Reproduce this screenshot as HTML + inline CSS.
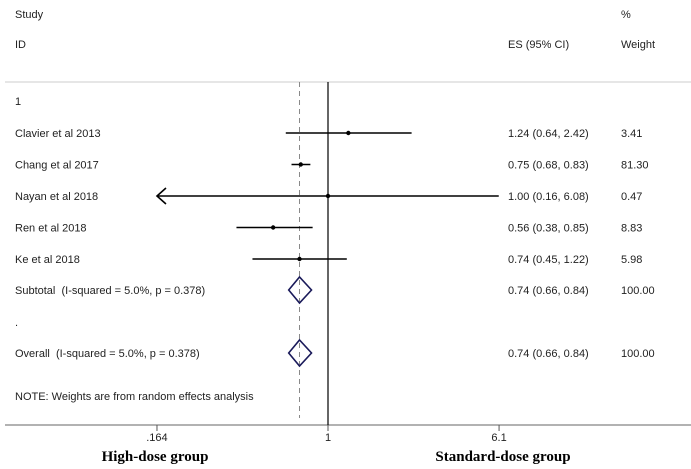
<!DOCTYPE html>
<html><head><meta charset="utf-8"><style>
html,body{margin:0;padding:0;background:#fff;}
svg{display:block;}
text{font-family:"Liberation Sans",Arial,sans-serif;font-size:11px;fill:#222;white-space:pre;}
.b{font-family:"Liberation Serif",serif;font-weight:bold;font-size:15px;fill:#000;}
</style></head><body>
<svg id="c" width="691" height="469" viewBox="0 0 691 469">
<text x="15" y="18">Study</text>
<text x="15" y="48">ID</text>
<text x="508" y="48">ES (95% CI)</text>
<text x="621" y="18">%</text>
<text x="621" y="48">Weight</text>
<line x1="5" y1="82" x2="691" y2="82" stroke="#ccc" stroke-width="1"/>
<text x="15" y="105">1</text>
<text x="15" y="326">.</text>
<text x="15" y="400">NOTE: Weights are from random effects analysis</text>
<line x1="5" y1="425" x2="691" y2="425" stroke="#999" stroke-width="1.5"/>
<text class="b" x="155" y="461" text-anchor="middle">High-dose group</text>
<text class="b" x="503" y="461" text-anchor="middle">Standard-dose group</text>
<g id="plot"></g>
</svg>
<script>
const studies=["Clavier et al 2013","Chang et al 2017","Nayan et al 2018","Ren et al 2018","Ke et al 2018"];
const es=[1.24,0.75,1.00,0.56,0.74];
const lo=[0.64,0.68,0.16,0.38,0.45];
const hi=[2.42,0.83,6.08,0.85,1.22];
const weights=["3.41","81.30","0.47","8.83","5.98"];
const pooledLabels=["Subtotal  (I-squared = 5.0%, p = 0.378)","Overall  (I-squared = 5.0%, p = 0.378)"];
const pooledEs=[0.74,0.74];
const pooledLo=[0.66,0.66];
const pooledHi=[0.84,0.84];
const pooledW=["100.00","100.00"];
const ticks=[0.164,1,6.1];
const tickLabels=[".164","1","6.1"];
const clipMin=0.164;

const NS="http://www.w3.org/2000/svg";
const g=document.getElementById('plot');
const X=v=>328+94.6*Math.log(v);
const rowY=i=>133+31.5*i;
function mk(t,a){const e=document.createElementNS(NS,t);for(const k in a)e.setAttribute(k,a[k]);g.appendChild(e);return e;}
const fmt=(e,l,h)=>e.toFixed(2)+" ("+l.toFixed(2)+", "+h.toFixed(2)+")";

let e=mk('line',{x1:X(1),y1:82,x2:X(1),y2:425,stroke:'#000','stroke-width':1.2});


e=mk('line',{x1:X(pooledEs[1]),y1:82,x2:X(pooledEs[1]),y2:418,stroke:'#888','stroke-width':1,'stroke-dasharray':'5,4'});



studies.forEach((s,i)=>{
  const y=rowY(i);
  let t=mk('text',{x:15,y:y+4});t.textContent=s;
  
  
  const l=Math.max(lo[i],clipMin);
  let ln=mk('line',{x1:X(l),y1:y,x2:X(hi[i]),y2:y,stroke:'#000','stroke-width':1.6});
  
  
  if(lo[i]<=clipMin){
    const ax=X(l);
    let a=mk('polyline',{points:(ax+9)+','+(y-8)+' '+ax+','+y+' '+(ax+9)+','+(y+8),fill:'none',stroke:'#000','stroke-width':1.6});
    
    
  }
  let c=mk('circle',{cx:X(es[i]),cy:y,r:2.2,fill:'#000'});
  
  
  t=mk('text',{x:508,y:y+4});t.textContent=fmt(es[i],lo[i],hi[i]);
  
  
  t=mk('text',{x:621,y:y+4});t.textContent=weights[i];
  
  
});
const pY=[290,353];
pooledLabels.forEach((s,i)=>{
  const y=pY[i];
  let t=mk('text',{x:15,y:y+4});t.textContent=s;
  
  
  const d=mk('polygon',{points:X(pooledLo[i])+','+y+' '+X(pooledEs[i])+','+(y-13)+' '+X(pooledHi[i])+','+y+' '+X(pooledEs[i])+','+(y+13),fill:'none',stroke:'#1a1a5a','stroke-width':1.6});
  
  
  t=mk('text',{x:508,y:y+4});t.textContent=fmt(pooledEs[i],pooledLo[i],pooledHi[i]);
  
  
  t=mk('text',{x:621,y:y+4});t.textContent=pooledW[i];
  
  
});
ticks.forEach((v,i)=>{
  let tk=mk('line',{x1:X(v),y1:425,x2:X(v),y2:431,stroke:'#555','stroke-width':1});
  
  
  let t=mk('text',{x:X(v),y:441,'text-anchor':'middle'});t.textContent=tickLabels[i];
  
  
});
</script>
</body></html>
